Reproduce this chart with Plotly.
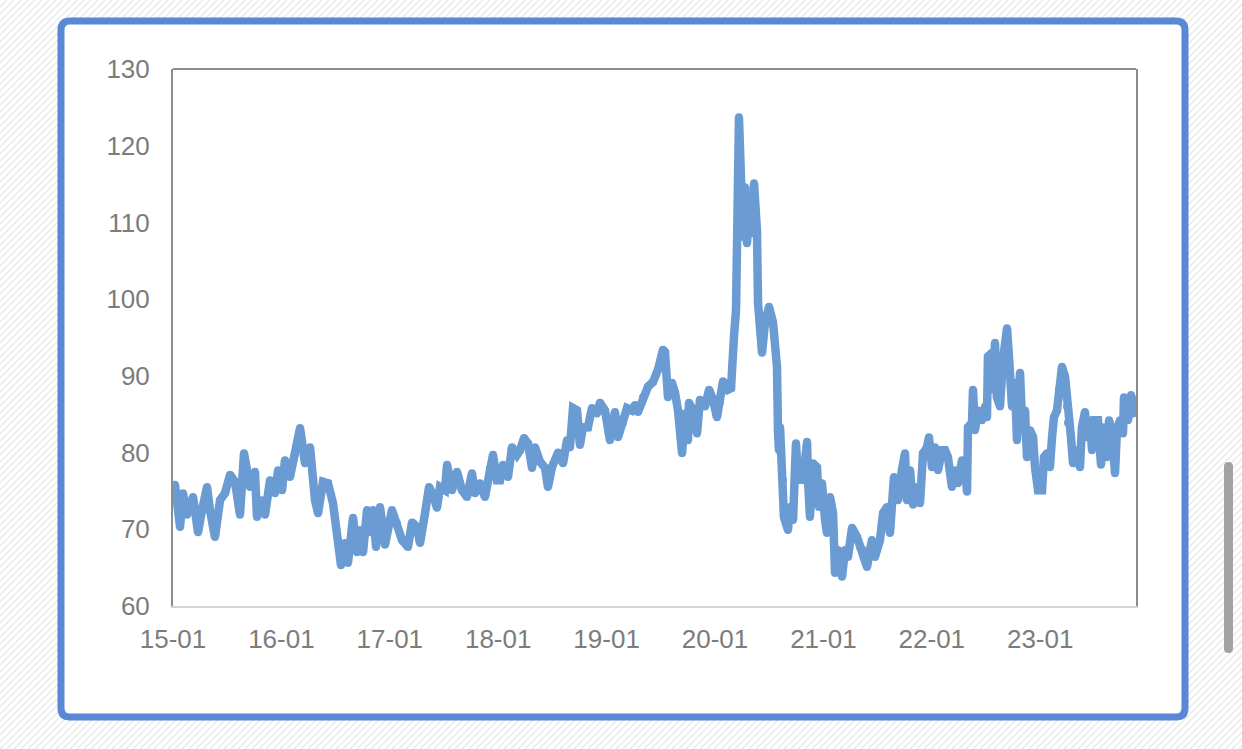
import plotly.graph_objects as go

# decimal year of each reading
years = [
    2015.018, 2015.065, 2015.092, 2015.129, 2015.185, 2015.231, 2015.268, 2015.314, 2015.341, 2015.387,
    2015.434, 2015.480, 2015.526, 2015.572, 2015.618, 2015.655, 2015.710, 2015.756, 2015.775, 2015.821,
    2015.849, 2015.895, 2015.941, 2015.969, 2016.006, 2016.033, 2016.079, 2016.125, 2016.172, 2016.218,
    2016.264, 2016.310, 2016.338, 2016.384, 2016.430, 2016.476, 2016.522, 2016.550, 2016.587, 2016.614,
    2016.661, 2016.697, 2016.725, 2016.753, 2016.790, 2016.817, 2016.845, 2016.873, 2016.910, 2016.956,
    2017.020, 2017.066, 2017.113, 2017.168, 2017.205, 2017.251, 2017.279, 2017.325, 2017.362, 2017.399,
    2017.435, 2017.463, 2017.509, 2017.528, 2017.574, 2017.620, 2017.666, 2017.712, 2017.758, 2017.786,
    2017.832, 2017.878, 2017.924, 2017.952, 2017.989, 2018.017, 2018.044, 2018.090, 2018.127, 2018.173,
    2018.201, 2018.238, 2018.275, 2018.312, 2018.339, 2018.386, 2018.432, 2018.459, 2018.496, 2018.552,
    2018.598, 2018.635, 2018.662, 2018.690, 2018.727, 2018.754, 2018.782, 2018.828, 2018.865, 2018.911,
    2018.939, 2018.985, 2019.031, 2019.077, 2019.105, 2019.151, 2019.188, 2019.234, 2019.262, 2019.290,
    2019.336, 2019.382, 2019.428, 2019.474, 2019.520, 2019.539, 2019.566, 2019.603, 2019.631, 2019.659,
    2019.696, 2019.723, 2019.751, 2019.760, 2019.797, 2019.834, 2019.861, 2019.908, 2019.945, 2019.982,
    2020.018, 2020.046, 2020.074, 2020.120, 2020.148, 2020.175, 2020.194, 2020.221, 2020.249, 2020.258,
    2020.277, 2020.295, 2020.323, 2020.341, 2020.360, 2020.387, 2020.397, 2020.415, 2020.434, 2020.461,
    2020.498, 2020.535, 2020.572, 2020.581, 2020.590, 2020.600, 2020.618, 2020.627, 2020.636, 2020.673,
    2020.692, 2020.720, 2020.747, 2020.766, 2020.802, 2020.812, 2020.849, 2020.858, 2020.876, 2020.904,
    2020.941, 2020.959, 2020.987, 2021.015, 2021.033, 2021.061, 2021.089, 2021.107, 2021.135, 2021.172,
    2021.199, 2021.227, 2021.264, 2021.310, 2021.338, 2021.365, 2021.402, 2021.448, 2021.476, 2021.522,
    2021.550, 2021.587, 2021.614, 2021.651, 2021.688, 2021.725, 2021.753, 2021.771, 2021.799, 2021.827,
    2021.863, 2021.891, 2021.919, 2021.956, 2021.974, 2022.002, 2022.029, 2022.057, 2022.094, 2022.122,
    2022.149, 2022.186, 2022.214, 2022.242, 2022.279, 2022.306, 2022.325, 2022.334, 2022.371, 2022.380,
    2022.398, 2022.426, 2022.463, 2022.491, 2022.509, 2022.518, 2022.555, 2022.565, 2022.583, 2022.601,
    2022.629, 2022.657, 2022.694, 2022.712, 2022.740, 2022.767, 2022.786, 2022.814, 2022.832, 2022.860,
    2022.878, 2022.906, 2022.934, 2022.952, 2022.980, 2023.017, 2023.035, 2023.063, 2023.090, 2023.109,
    2023.127, 2023.155, 2023.173, 2023.201, 2023.229, 2023.247, 2023.256, 2023.284, 2023.303, 2023.339,
    2023.367, 2023.385, 2023.413, 2023.432, 2023.459, 2023.478, 2023.505, 2023.533, 2023.561, 2023.579,
    2023.616, 2023.635, 2023.662, 2023.690, 2023.708, 2023.736, 2023.764, 2023.773, 2023.810, 2023.838,
    2023.856, 2023.884,
]

values = [
    75.8, 70.3, 74.7, 71.9, 74.2, 69.6, 72.5, 75.5, 72.5, 69.0,
    73.8, 74.7, 77.1, 76.2, 71.9, 79.9, 75.5, 77.5, 71.6, 73.8,
    71.9, 76.4, 74.7, 77.7, 75.1, 79.0, 76.8, 79.7, 83.2, 78.6,
    80.7, 73.8, 72.1, 76.2, 76.0, 73.4, 68.6, 65.3, 68.2, 65.6,
    71.5, 67.0, 69.9, 67.0, 72.5, 69.6, 72.5, 67.7, 72.9, 68.0,
    72.5, 70.8, 68.6, 67.7, 70.9, 70.3, 68.2, 72.1, 75.5, 74.5,
    72.8, 75.5, 75.1, 78.4, 75.1, 77.5, 75.1, 74.2, 77.3, 74.7,
    76.0, 74.2, 78.0, 79.7, 76.4, 76.4, 78.4, 76.8, 80.7, 79.7,
    80.3, 81.9, 81.2, 78.0, 80.7, 78.8, 78.0, 75.5, 78.1, 80.0,
    78.6, 81.6, 80.7, 85.8, 85.5, 81.0, 83.3, 83.3, 85.8, 85.1,
    86.5, 85.5, 81.6, 85.3, 82.0, 83.9, 85.8, 85.5, 86.2, 85.3,
    87.2, 88.6, 89.2, 90.8, 93.4, 93.1, 87.2, 89.1, 87.8, 85.5,
    79.9, 85.1, 81.6, 86.5, 85.5, 82.5, 86.9, 86.0, 88.2, 86.9,
    84.6, 86.6, 89.3, 88.2, 88.4, 95.1, 98.6, 123.7, 112.0, 108.1,
    114.6, 107.3, 113.3, 108.6, 115.1, 109.0, 99.5, 96.9, 93.0, 96.9,
    99.0, 97.0, 91.2, 82.9, 80.3, 83.3, 78.1, 76.4, 71.6, 69.9,
    72.9, 71.2, 81.2, 76.4, 78.1, 76.4, 81.4, 76.4, 71.6, 78.6,
    78.1, 72.9, 76.0, 71.2, 69.5, 74.2, 72.1, 64.3, 67.3, 63.8,
    67.3, 66.4, 70.2, 69.0, 67.7, 67.3, 65.1, 68.6, 66.4, 68.6,
    72.1, 72.9, 69.5, 76.8, 73.8, 77.8, 79.9, 73.8, 77.7, 73.2,
    75.5, 73.4, 79.9, 80.7, 82.0, 78.1, 80.7, 77.7, 80.3, 80.3,
    79.4, 75.5, 77.7, 76.0, 79.0, 78.6, 74.9, 83.3, 83.9, 88.2,
    82.9, 85.5, 84.2, 86.0, 84.6, 92.5, 93.0, 88.2, 94.3, 87.2,
    86.0, 92.1, 96.2, 92.5, 86.0, 89.1, 81.6, 90.4, 84.2, 85.5,
    79.4, 82.9, 82.0, 78.1, 75.1, 75.1, 79.4, 79.9, 78.1, 82.0,
    84.6, 85.5, 88.2, 91.2, 89.9, 86.0, 83.9, 82.0, 78.6, 80.3,
    78.1, 83.3, 85.3, 82.0, 84.2, 80.3, 84.2, 84.2, 78.4, 83.3,
    79.4, 84.2, 82.9, 77.3, 82.9, 84.2, 82.5, 87.2, 84.2, 87.5,
    85.1, 86.9,
]

tick_years = [2015, 2016, 2017, 2018, 2019, 2020, 2021, 2022, 2023]
tick_labels = ["15-01", "16-01", "17-01", "18-01", "19-01", "20-01", "21-01", "22-01", "23-01"]
y_ticks = [60, 70, 80, 90, 100, 110, 120, 130]

W, H = 1242, 749
LINE_COLOR = "#6a9bd3"
BORDER_COLOR = "#5b88d4"
TEXT_COLOR = "#7c7c7c"

def px(x):
    return x / W

def py(y):
    return 1 - y / H

fig = go.Figure()
fig.add_trace(go.Scatter(
    x=years, y=values, mode="lines+markers",
    line=dict(color=LINE_COLOR, width=8.5),
    marker=dict(color=LINE_COLOR, size=8, line=dict(width=0)),
    hoverinfo="skip", showlegend=False,
))

shapes = []
# hatched background
segs = []
for x0 in range(-H, W + 10, 7):
    segs.append(f"M{px(x0):.5f},0 L{px(x0 + H):.5f},1")
shapes.append(dict(type="path", xref="paper", yref="paper", path=" ".join(segs),
                   line=dict(color="#e8e8e8", width=1.3), layer="below"))

# rounded white card with blue border
L, R, T, B, r = 61, 1185, 21, 717, 9
card = (f"M{px(L + r)},{py(T)} L{px(R - r)},{py(T)} Q{px(R)},{py(T)} {px(R)},{py(T + r)} "
        f"L{px(R)},{py(B - r)} Q{px(R)},{py(B)} {px(R - r)},{py(B)} "
        f"L{px(L + r)},{py(B)} Q{px(L)},{py(B)} {px(L)},{py(B - r)} "
        f"L{px(L)},{py(T + r)} Q{px(L)},{py(T)} {px(L + r)},{py(T)} Z")
shapes.append(dict(type="path", xref="paper", yref="paper", path=card,
                   fillcolor="white", line=dict(color=BORDER_COLOR, width=7), layer="below"))

# scrollbar
sL, sR, sT, sB = 1224, 1233, 462, 653
sr = 4.5
sb = (f"M{px(sL)},{py(sT + sr)} Q{px(sL)},{py(sT)} {px(sL + sr)},{py(sT)} Q{px(sR)},{py(sT)} {px(sR)},{py(sT + sr)} "
      f"L{px(sR)},{py(sB - sr)} Q{px(sR)},{py(sB)} {px(sL + sr)},{py(sB)} Q{px(sL)},{py(sB)} {px(sL)},{py(sB - sr)} Z")
shapes.append(dict(type="path", xref="paper", yref="paper", path=sb,
                   fillcolor="#a3a3a3", line=dict(width=0), layer="above"))

# top frame line of plot area
shapes.append(dict(type="line", xref="x domain", yref="y domain", x0=0, x1=1, y0=1, y1=1,
                   line=dict(color="#8c8c8c", width=2), layer="above"))

fig.update_layout(
    width=W, height=H, autosize=False,
    margin=dict(l=0, r=0, t=0, b=0, pad=0, autoexpand=False),
    paper_bgcolor="white",
    plot_bgcolor="rgba(0,0,0,0)",
    shapes=shapes,
    hovermode=False,
    font=dict(family="Liberation Sans, Arial, sans-serif", size=26, color=TEXT_COLOR),
    xaxis=dict(
        domain=[173 / W, 1136 / W],
        range=[2015.0, 2015 + 963 / 108.4],
        tickmode="array", tickvals=tick_years, ticktext=tick_labels,
        showgrid=False, zeroline=False, ticks="", automargin=False,
        showline=True, linecolor="#d4d4d4", linewidth=2,
        ticklabelstandoff=9,
        tickfont=dict(size=26, color=TEXT_COLOR),
    ),
    yaxis=dict(
        domain=[1 - 606 / H, 1 - 69 / H],
        range=[60, 130],
        tickmode="array", tickvals=y_ticks,
        showgrid=False, zeroline=False, ticks="", automargin=False,
        showline=True, mirror=True, linecolor="#8c8c8c", linewidth=2,
        ticklabelstandoff=16,
        tickfont=dict(size=26, color=TEXT_COLOR),
    ),
)

fig.write_html(
    "out.html",
    config={"displayModeBar": False},
    post_script="document.body.style.margin='0';document.body.style.overflow='hidden';",
)
